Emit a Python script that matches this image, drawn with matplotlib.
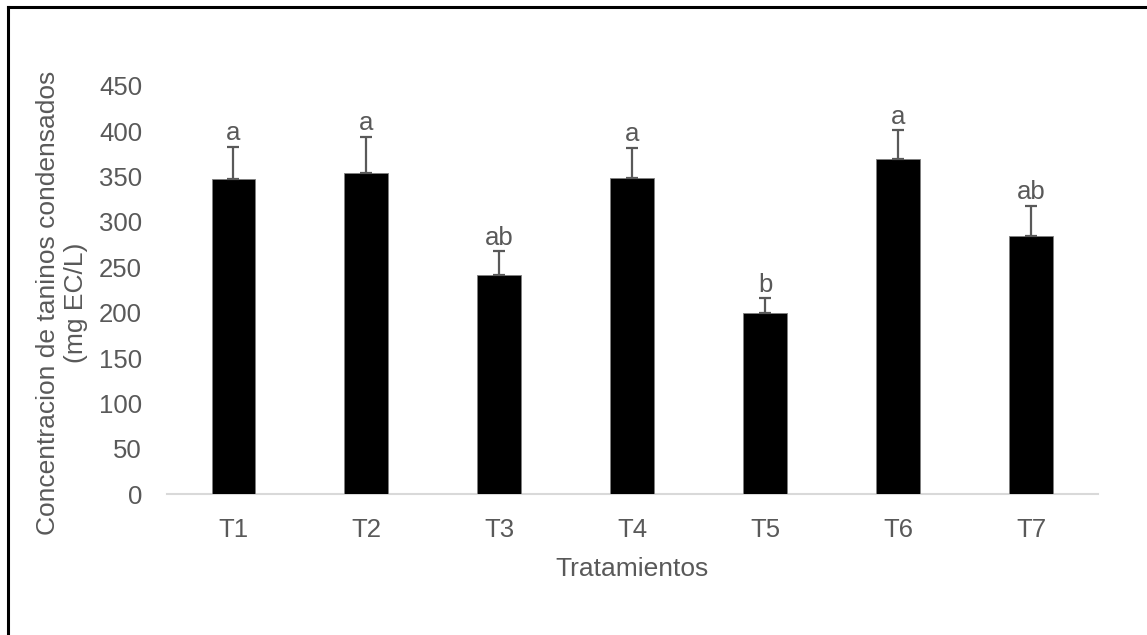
import numpy as np
import matplotlib.pyplot as plt
from matplotlib.lines import Line2D

plt.rcParams['font.family'] = ['Liberation Sans', 'DejaVu Sans']

# Concentración de taninos condensados por tratamiento
tratamientos = ['T1', 'T2', 'T3', 'T4', 'T5', 'T6', 'T7']
media = [347, 354, 242, 348, 200, 369, 285]
error = [36, 40, 26, 34, 16, 32, 33]
letras = ['a', 'a', 'ab', 'a', 'b', 'a', 'ab']

gris = '#595959'
fs = 18.5

fig = plt.figure(figsize=(11.47, 6.35), dpi=100)
ax = fig.add_axes([0.1456, 0.222, 0.957 - 0.1456, 0.8646 - 0.222])

x = np.arange(len(tratamientos))
ax.bar(x, media, width=0.33, color='black', edgecolor='#7f7f7f', linewidth=0.6, zorder=3)
ax.errorbar(x, media, yerr=[np.zeros(len(error)), error], fmt='none',
            ecolor=gris, elinewidth=1.6, capsize=4.5, capthick=1.6, zorder=4)

# letras de significancia sobre cada barra
for xi, m, e, l in zip(x, media, error, letras):
    ax.annotate(l, (xi, m + e), xytext=(0, 1), textcoords='offset points',
                ha='center', va='bottom', fontsize=fs, color=gris)

ax.set_xlim(-0.5, len(tratamientos) - 0.5)
ax.set_ylim(0, 450)
ax.set_yticks(np.arange(0, 451, 50))
ax.set_xticks(x)
ax.set_xticklabels(tratamientos)
ax.tick_params(axis='both', length=0, labelsize=fs, labelcolor=gris)
ax.tick_params(axis='x', pad=17)
ax.tick_params(axis='y', pad=18)
for s in ['top', 'right', 'left']:
    ax.spines[s].set_visible(False)
ax.spines['bottom'].set_color('#d9d9d9')
ax.spines['bottom'].set_linewidth(1.5)

ax.set_xlabel('Tratamientos', fontsize=19, color=gris, labelpad=11)
fig.text(62 / 1147, 1 - 303 / 635, 'Concentracion de taninos condensados\n(mg EC/L)',
         rotation=90, ha='center', va='center', fontsize=19, color=gris,
         linespacing=1.2, multialignment='center')

# borde del área del gráfico
fig.add_artist(Line2D([8 / 1147, 8 / 1147], [0, 1 - 7 / 635], color='black', linewidth=2.2))
fig.add_artist(Line2D([8 / 1147, 1], [1 - 7 / 635, 1 - 7 / 635], color='black', linewidth=2.2))

fig.savefig('out.png', dpi=100)
